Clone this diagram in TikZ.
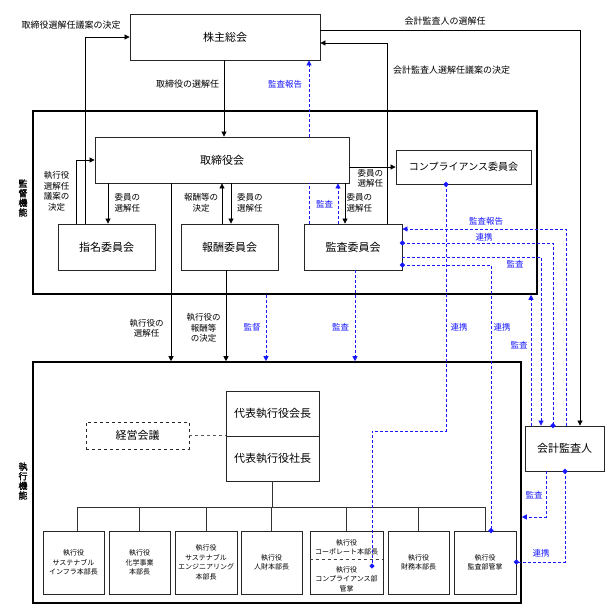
\documentclass[tikz,border=0pt]{standalone}
\usepackage{fontspec}
\setmainfont{Noto Sans CJK JP}
\newfontfamily\jpbold[FakeBold=1.6]{Noto Sans CJK JP}
\usetikzlibrary{arrows.meta,calc}
\definecolor{jblue}{RGB}{25,25,255}
\tikzset{
  box/.style={draw=black!85, fill=white, line width=0.8pt, inner sep=0pt, align=center, font=\fontsize{11}{13}\selectfont},
  bbox/.style={box, minimum height=63pt, font=\fontsize{7}{9.5}\selectfont},
  outerbox/.style={draw=black, line width=1.6pt, inner sep=0pt},
  lbl/.style={inner sep=0pt, align=center, font=\fontsize{8.5}{10.5}\selectfont},
  lbll/.style={lbl, align=left, anchor=west},
  blbl/.style={lbl, text=jblue},
  toplbl/.style={inner sep=0pt, font=\fontsize{9}{11}\selectfont},
  vlbl/.style={inner sep=0pt, align=center, font=\jpbold\fontsize{9}{9.6}\selectfont},
  smalltxt/.style={inner sep=0pt, align=center, font=\fontsize{7}{9.5}\selectfont},
  arr/.style={draw=black, line width=0.7pt, -{Triangle[length=5pt,width=5pt]}},
  bdash/.style={draw=jblue, line width=0.7pt, dash pattern=on 3pt off 2pt},
  barr/.style={bdash, -{Triangle[length=5pt,width=5pt]}},
  treeline/.style={draw=black!80, line width=0.7pt},
  dmd/.pic={\fill[jblue] (-2.7pt,0pt) -- (0pt,2.7pt) -- (2.7pt,0pt) -- (0pt,-2.7pt) -- cycle;}
}
\begin{document}
\begin{tikzpicture}[x=1pt,y=-1pt]
\useasboundingbox (0,0) rectangle (616,616);

% column / row helper coordinates
\coordinate (xA) at (85,0);   \coordinate (xB) at (76,0);   \coordinate (xC) at (108,0);
\coordinate (xD) at (222,0);  \coordinate (xE) at (231,0);  \coordinate (xF) at (224,0);
\coordinate (xG) at (171,0);  \coordinate (xH) at (226,0);  \coordinate (xI) at (266,0);
\coordinate (xJ) at (309,0);  \coordinate (xK) at (338,0);  \coordinate (xL) at (345,0);
\coordinate (xM) at (387,0);  \coordinate (xN) at (580,0);  \coordinate (xO) at (566,0);
\coordinate (xP) at (553,0);  \coordinate (xQ) at (541,0);  \coordinate (xR) at (491,0);
\coordinate (xS) at (446,0);  \coordinate (xS2) at (372,0); \coordinate (xT) at (355,0);
\coordinate (xU) at (531,0);  \coordinate (xV) at (546,0);  \coordinate (xW) at (565,0);
\coordinate (xb1) at (77.7,0);
\coordinate (r30) at (0,30);   \coordinate (r43) at (0,43);
\coordinate (r229) at (0,229); \coordinate (r243) at (0,243);
\coordinate (r257) at (0,257); \coordinate (r265) at (0,265);
\coordinate (r431) at (0,431); \coordinate (r507) at (0,507);
\coordinate (r517) at (0,517); \coordinate (r559) at (0,559);
\coordinate (r562) at (0,562); \coordinate (r566) at (0,566);

% outer frames
\node[outerbox, minimum width=504pt, minimum height=183pt] (kantoku) at (285,202.5) {};
\node[outerbox, minimum width=488pt, minimum height=241pt] (shikko) at (277,482.5) {};

% main boxes
\node[box, minimum width=190pt, minimum height=46pt] (kabu) at (225,37) {株主総会};
\node[box, minimum width=254pt, minimum height=46pt] (tori) at (222,160) {取締役会};
\node[box, minimum width=97pt, minimum height=46pt] (shimei) at (106.5,247) {指名委員会};
\node[box, minimum width=97pt, minimum height=46pt] (houshu) at (229.5,247) {報酬委員会};
\node[box, minimum width=98pt, minimum height=46pt] (kansa) at (353,247) {監査委員会};
\node[box, minimum width=135pt, minimum height=34pt, font=\fontsize{10}{12}\selectfont] (comp) at (463.5,167) {コンプライアンス委員会};
\node[box, minimum width=93pt, minimum height=45pt] (kaicho) at (272.5,413.5) {代表執行役会長};
\node[box, minimum width=93pt, minimum height=45pt] (shacho) at (272.5,458.5) {代表執行役社長};
\node[box, dashed, minimum width=103pt, minimum height=27pt] (keiei) at (137.5,435.5) {経営会議};
\node[box, minimum width=79pt, minimum height=45pt] (kaikei) at (564.5,448.5) {会計監査人};

% bottom boxes
\node[bbox, minimum width=61pt] (b1) at (73.5,562.5) {執行役\\サステナブル\\インフラ本部長};
\node[bbox, minimum width=61pt] (b2) at (139.5,562.5) {執行役\\化学事業\\本部長};
\node[bbox, minimum width=62pt] (b3) at (206,562.5) {執行役\\サステナブル\\エンジニアリング\\本部長};
\node[bbox, minimum width=61pt] (b4) at (271.5,562.5) {執行役\\人財本部長};
\node[bbox, minimum width=73pt] (b5) at (346.5,562.5) {};
\node[smalltxt] (b5t) at (346.5,547.5) {執行役\\コーポレート本部長};
\node[smalltxt] (b5b) at (346.5,579) {執行役\\コンプライアンス部\\管掌};
\node[bbox, minimum width=61pt] (b6) at (418.5,562.5) {執行役\\財務本部長};
\node[bbox, minimum width=62pt] (b7) at (485,562.5) {執行役\\監査部管掌};
\draw[dashed, draw=black!75, line width=0.6pt] (b5.west |- r559) -- (b5.east |- r559);

% vertical side labels
\node[vlbl] (v1) at (23,198) {監\\督\\機\\能};
\node[vlbl] (v2) at (23,481) {執\\行\\機\\能};

% tree
\draw[treeline] (shacho.south) -- (shacho.south |- r507);
\draw[treeline] (b1.north -| xb1) |- (b7.north |- r507) -- (b7.north);
\foreach \bb in {b2,b3,b4,b5,b6} {\draw[treeline] (\bb.north) -- (\bb.north |- r507);}
\draw[dashed, draw=black!65, line width=0.8pt] (keiei.east) -- (keiei.east -| kaicho.west);

% black connectors
\draw[arr] (shimei.north -| xA) |- (kabu.west);
\draw[arr] (shimei.north -| xB) |- (tori.west);
\draw[arr] (tori.south -| xC) -- (shimei.north -| xC);
\draw[arr] (kabu.south -| xF) -- (tori.north -| xF);
\draw[arr] (houshu.north -| xD) -- (tori.south -| xD);
\draw[arr] (tori.south -| xE) -- (houshu.north -| xE);
\draw[arr] (tori.south -| xG) -- (shikko.north -| xG);
\draw[arr] (houshu.south -| xH) -- (shikko.north -| xH);
\draw[arr] (tori.south -| xL) -- (kansa.north -| xL);
\draw[arr] (tori.east |- comp.west) -- (comp.west);
\draw[arr] (kansa.north -| xM) |- (kabu.east |- r43);
\draw[arr] (kabu.east |- r30) -| (kaikei.north -| xN);

% blue connectors
\draw[barr] (kantoku.south -| xI) -- (shikko.north -| xI);
\draw[bdash] (kansa.north -| xJ) -- (tori.south -| xJ);
\draw[barr] (tori.north -| xJ) -- (kabu.south -| xJ);
\draw[barr] (kansa.north -| xK) -- (tori.south -| xK);
\draw[barr] (kansa.south -| xT) -- (shikko.north -| xT);
\draw[barr] (kaikei.north -| xO) |- (kansa.east |- r229);
\draw[bdash] (kansa.east |- r243) -| (kaikei.north -| xP);
\draw[barr] (kansa.east |- r257) -| (kaikei.north -| xQ);
\draw[bdash] (kansa.east |- r265) -| (b7.north -| xR);
\draw[bdash] (comp.south -| xS) |- (xS2 |- r431) -- (xS2 |- r566);
\draw[barr] (kaikei.north -| xU) -- (kantoku.south -| xU);
\draw[barr] (kaikei.south -| xV) |- (shikko.east |- r517);
\draw[bdash] (kaikei.south -| xW) |- (b7.east |- r562);

% dots
\path (kansa.east |- r243) pic {dmd};
\path (kaikei.north -| xP) pic {dmd};
\path (kansa.east |- r265) pic {dmd};
\path (b7.north -| xR) pic {dmd};
\path (comp.south -| xS) pic {dmd};
\path (xS2 |- r566) pic {dmd};
\path (kaikei.south -| xW) pic {dmd};
\path (b7.east |- r562) pic {dmd};

% labels (black)
\node[toplbl] (t1) at (71,25) {取締役選解任議案の決定};
\node[toplbl] (t2) at (445,21) {会計監査人の選解任};
\node[toplbl] (t3) at (187.5,84) {取締役の選解任};
\node[toplbl, anchor=west] (t4) at (393,70.5) {会計監査人選解任議案の決定};
\node[lbl] (t5) at (56.5,191.5) {執行役\\選解任\\議案の\\決定};
\node[lbll] (t6) at (114.5,203) {委員の\\選解任};
\node[lbl] (t7) at (201,203) {報酬等の\\決定};
\node[lbll] (t8) at (237,203) {委員の\\選解任};
\node[lbll] (t9) at (346.5,203) {委員の\\選解任};
\node[lbll] (t10) at (357.5,178.5) {委員の\\選解任};
\node[lbl] (t11) at (146.5,328.5) {執行役の\\選解任};
\node[lbl] (t12) at (203.5,328) {執行役の\\報酬等\\の決定};

% labels (blue)
\node[blbl] (u1) at (285,84) {監査報告};
\node[blbl] (u2) at (324.5,204) {監査};
\node[blbl] (u3) at (486,221) {監査報告};
\node[blbl] (u4) at (484,237) {連携};
\node[blbl] (u5) at (515,264) {監査};
\node[blbl] (u6) at (252,327) {監督};
\node[blbl] (u7) at (340.5,327) {監査};
\node[blbl] (u8) at (459,327) {連携};
\node[blbl] (u9) at (502,327) {連携};
\node[blbl] (u10) at (519,345) {監査};
\node[blbl] (u11) at (534,495) {監査};
\node[blbl] (u12) at (541,553) {連携};
\end{tikzpicture}
\end{document}
